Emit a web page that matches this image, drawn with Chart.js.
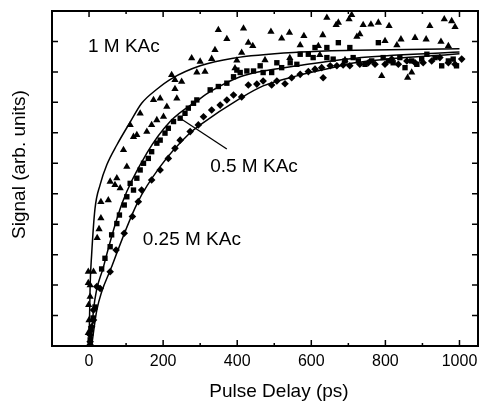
<!DOCTYPE html>
<html>
<head>
<meta charset="utf-8">
<script src="https://cdn.jsdelivr.net/npm/chart.js@4/dist/chart.umd.min.js"></script>
<style>
  html, body { margin: 0; padding: 0; background: #fff; }
  canvas { display: block; }
</style>
</head>
<body>
<canvas id="chart" width="479" height="403"></canvas>
<script>
// Pulse delay (ps) vs signal, three KAc concentrations with fitted rises
const xTicks = [0, 200, 400, 600, 800, 1000];
const xMinorTicks = [100, 300, 500, 700, 900];
const yTicks = [0.1, 0.2, 0.3, 0.4, 0.5, 0.6, 0.7, 0.8, 0.9, 1.0];

// 1 M KAc (triangles)
const delay1M = [-2, 3, 0, -1, 3, -2, -2, 12, 3, 22, 27, 32, 32, 52, 57, 75, 70, 84, 102, 93, 120, 129, 156, 111, 169, 183, 138, 201, 174, 192, 210, 232, 237, 232, 250, 223, 291, 313, 277, 300, 331, 340, 349, 372, 399, 394, 412, 417, 430, 442, 475, 491, 520, 541, 542, 570, 580, 619, 623, 631, 642, 667, 673, 691, 702, 709, 723, 731, 740, 761, 781, 790, 799, 810, 831, 842, 860, 871, 880, 910, 920, 950, 959, 970, 979, 988];
const signal1M = [0.043, 0.010, 0.085, 0.135, 0.162, 0.207, 0.244, 0.244, 0.200, 0.355, 0.384, 0.420, 0.473, 0.479, 0.540, 0.551, 0.529, 0.518, 0.589, 0.644, 0.687, 0.693, 0.704, 0.726, 0.726, 0.742, 0.764, 0.753, 0.808, 0.813, 0.786, 0.844, 0.813, 0.874, 0.868, 0.890, 0.898, 0.901, 0.945, 0.934, 0.943, 0.972, 1.038, 1.008, 0.938, 0.912, 0.963, 1.043, 0.996, 0.985, 0.939, 1.032, 1.010, 1.029, 0.946, 0.988, 1.018, 0.985, 0.956, 1.021, 1.078, 1.054, 1.062, 0.939, 1.073, 1.087, 1.016, 1.024, 1.054, 1.056, 1.062, 0.887, 1.002, 1.051, 0.988, 1.007, 0.881, 0.898, 1.012, 1.007, 1.051, 0.999, 1.073, 0.985, 1.067, 1.048];

// 0.5 M KAc (squares)
const delayHalf = [3, 5, 11, 16, 34, 43, 57, 61, 75, 82, 95, 102, 120, 111, 129, 138, 147, 160, 169, 183, 192, 205, 214, 228, 246, 259, 268, 282, 291, 327, 349, 372, 390, 399, 408, 426, 444, 462, 470, 493, 507, 520, 543, 561, 570, 592, 605, 610, 642, 642, 659, 673, 691, 704, 713, 727, 745, 763, 781, 794, 808, 821, 839, 853, 871, 885, 898, 912, 934, 952, 970, 983, 992];
const signalHalf = [0.020, 0.053, 0.092, 0.128, 0.253, 0.288, 0.326, 0.365, 0.402, 0.430, 0.463, 0.490, 0.512, 0.534, 0.551, 0.578, 0.600, 0.616, 0.638, 0.666, 0.676, 0.699, 0.715, 0.737, 0.748, 0.764, 0.781, 0.797, 0.808, 0.841, 0.852, 0.863, 0.884, 0.906, 0.898, 0.903, 0.903, 0.920, 0.898, 0.898, 0.930, 0.914, 0.930, 0.925, 0.958, 0.958, 0.947, 0.980, 0.980, 0.947, 0.942, 0.996, 0.936, 0.980, 0.947, 0.936, 0.925, 0.936, 0.996, 0.947, 0.936, 0.930, 0.947, 0.914, 0.936, 0.925, 0.942, 0.958, 0.947, 0.920, 0.936, 0.942, 0.920];

// 0.25 M KAc (diamonds)
const delayQuarter = [3, 3, 7, 12, 12, 21, 30, 57, 73, 95, 117, 133, 142, 169, 192, 214, 232, 246, 273, 295, 309, 331, 354, 372, 390, 412, 430, 453, 470, 493, 507, 529, 547, 570, 592, 610, 628, 632, 651, 669, 686, 704, 731, 754, 772, 799, 817, 835, 858, 880, 902, 925, 947, 970, 988, 1006];
const signalQuarter = [0.014, 0.036, 0.063, 0.085, 0.118, 0.195, 0.189, 0.244, 0.315, 0.370, 0.425, 0.474, 0.512, 0.545, 0.578, 0.616, 0.649, 0.676, 0.704, 0.726, 0.753, 0.775, 0.791, 0.808, 0.824, 0.818, 0.857, 0.860, 0.870, 0.857, 0.870, 0.861, 0.881, 0.892, 0.901, 0.909, 0.914, 0.881, 0.920, 0.920, 0.923, 0.920, 0.925, 0.930, 0.925, 0.925, 0.942, 0.925, 0.936, 0.930, 0.930, 0.936, 0.947, 0.930, 0.925, 0.942];

// fitted curves
const fitDelay1M = [0, 3, 7, 16, 30, 48, 75, 111, 142, 183, 223, 300, 389, 570, 718, 1000];
const fitSignal1M = [0, 0.2, 0.3, 0.45, 0.53, 0.595, 0.66, 0.735, 0.797, 0.843, 0.878, 0.92, 0.945, 0.965, 0.971, 0.976];
const fitDelayHalf = [5, 12, 39, 90, 156, 219, 295, 327, 408, 470, 561, 718, 1000];
const fitSignalHalf = [0, 0.118, 0.26, 0.471, 0.633, 0.737, 0.808, 0.835, 0.884, 0.903, 0.92, 0.945, 0.965];
const fitDelayQuarter = [7, 21, 61, 131, 192, 273, 300, 408, 470, 561, 650, 718, 1000];
const fitSignalQuarter = [0, 0.118, 0.26, 0.471, 0.589, 0.70, 0.726, 0.813, 0.854, 0.887, 0.912, 0.93, 0.96];

const fontFamily = '"Liberation Sans", Arial, sans-serif';
const labelFont = '19px ' + fontFamily;

const pts = (xs, ys) => xs.map((x, i) => ({ x: x, y: ys[i] }));

function markers(xs, ys, style, radius) {
  return {
    data: pts(xs, ys),
    pointStyle: style,
    pointRadius: radius,
    pointBackgroundColor: '#000',
    pointBorderColor: '#000',
    pointBorderWidth: 0,
    showLine: false
  };
}

function fitLine(xs, ys) {
  return {
    data: pts(xs, ys),
    showLine: true,
    pointRadius: 0,
    borderColor: '#000',
    borderWidth: 1.5,
    cubicInterpolationMode: 'monotone'
  };
}

// frame, inward ticks, titles and curve labels
const decorations = {
  id: 'decorations',
  afterDraw(chart) {
    const { ctx, chartArea: a, scales } = chart;
    const xs = scales.x, ys = scales.y;
    ctx.save();
    ctx.strokeStyle = '#000';
    ctx.lineWidth = 1.5;
    ctx.beginPath();
    xTicks.forEach(v => {
      const px = xs.getPixelForValue(v);
      ctx.moveTo(px, a.bottom); ctx.lineTo(px, a.bottom - 6);
      ctx.moveTo(px, a.top); ctx.lineTo(px, a.top + 6);
    });
    xMinorTicks.forEach(v => {
      const px = xs.getPixelForValue(v);
      ctx.moveTo(px, a.bottom); ctx.lineTo(px, a.bottom - 3);
      ctx.moveTo(px, a.top); ctx.lineTo(px, a.top + 3);
    });
    yTicks.forEach(v => {
      const py = ys.getPixelForValue(v);
      ctx.moveTo(a.left, py); ctx.lineTo(a.left + 6, py);
      ctx.moveTo(a.right, py); ctx.lineTo(a.right - 6, py);
    });
    ctx.stroke();

    ctx.lineWidth = 2;
    ctx.strokeRect(a.left, a.top, a.right - a.left, a.bottom - a.top);

    // leader from the 0.5 M label to its curve
    ctx.lineWidth = 1.3;
    ctx.beginPath();
    ctx.moveTo(xs.getPixelForValue(251), ys.getPixelForValue(0.744));
    ctx.lineTo(xs.getPixelForValue(372), ys.getPixelForValue(0.647));
    ctx.stroke();

    ctx.fillStyle = '#000';
    ctx.font = labelFont;
    ctx.textAlign = 'left';
    ctx.textBaseline = 'middle';
    ctx.fillText('1 M KAc', xs.getPixelForValue(-3), ys.getPixelForValue(0.984));
    ctx.fillText('0.5 M KAc', xs.getPixelForValue(327), ys.getPixelForValue(0.589));
    ctx.fillText('0.25 M KAc', xs.getPixelForValue(145), ys.getPixelForValue(0.348));

    ctx.textAlign = 'center';
    ctx.textBaseline = 'alphabetic';
    ctx.fillText('Pulse Delay (ps)', (a.left + a.right) / 2 + 14, a.bottom + 51);

    ctx.translate(a.left - 32, (a.top + a.bottom) / 2 - 14);
    ctx.rotate(-Math.PI / 2);
    ctx.textBaseline = 'middle';
    ctx.fillText('Signal (arb. units)', 0, 0);
    ctx.restore();
  }
};

new Chart(document.getElementById('chart'), {
  type: 'scatter',
  data: {
    datasets: [
      markers(delay1M, signal1M, 'triangle', 4.2),
      markers(delayHalf, signalHalf, 'rect', 3.8),
      markers(delayQuarter, signalQuarter, 'rectRot', 3.8),
      fitLine(fitDelay1M, fitSignal1M),
      fitLine(fitDelayHalf, fitSignalHalf),
      fitLine(fitDelayQuarter, fitSignalQuarter)
    ]
  },
  options: {
    responsive: false,
    devicePixelRatio: 1,
    animation: false,
    layout: { autoPadding: false, padding: { top: 11, right: 1, left: 0, bottom: 0 } },
    plugins: { legend: { display: false }, tooltip: { enabled: false } },
    scales: {
      x: {
        type: 'linear',
        min: -100,
        max: 1050,
        afterBuildTicks: s => { s.ticks = xTicks.map(v => ({ value: v })); },
        afterFit: s => { s.height = 57; s.paddingLeft = 0; s.paddingRight = 0; },
        grid: { display: false, drawTicks: false },
        border: { display: false },
        ticks: {
          color: '#000',
          padding: 6,
          maxRotation: 0,
          font: { family: fontFamily, size: 16 },
          callback: v => String(v)
        }
      },
      y: {
        type: 'linear',
        min: 0,
        max: 1.1,
        afterFit: s => { s.width = 52; s.paddingTop = 0; s.paddingBottom = 0; },
        grid: { display: false, drawTicks: false },
        border: { display: false },
        ticks: { display: false }
      }
    }
  },
  plugins: [decorations]
});
</script>
</body>
</html>
